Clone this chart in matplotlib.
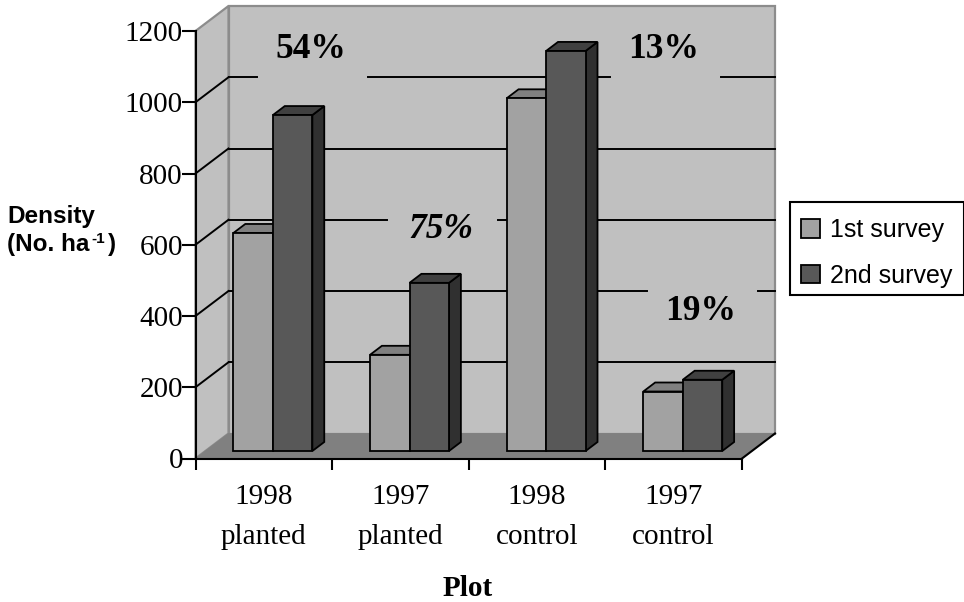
import matplotlib
matplotlib.use('Agg')
import matplotlib.pyplot as plt
from matplotlib.patches import Patch, Rectangle

# valores
categories = ['1998\nplanted', '1997\nplanted', '1998\ncontrol', '1997\ncontrol']
first_survey = [612, 270, 990, 167]
second_survey = [943, 472, 1123, 200]
series_names = ['1st survey', '2nd survey']
y_ticks = [0, 200, 400, 600, 800, 1000, 1200]
pct_labels = ['54%', '75%', '13%', '19%']

WIDTH_PX = 964
HEIGHT_PX = 602
AX_LEFT, AX_RIGHT, AX_TOP, AX_BOTTOM = 195.5, 742.0, 31.0, 458.5
DEPTH_X_PX, DEPTH_Y_PX = 33.0, 25.0

CAT_PX = (AX_RIGHT - AX_LEFT) / len(categories)
VAL_PX = (AX_BOTTOM - AX_TOP) / 1200.0
depth_x = DEPTH_X_PX / CAT_PX
depth_y = DEPTH_Y_PX / VAL_PX

BAR_W = 0.289
BAR_START = 0.205
BAR_D0, BAR_D1 = 0.3, 0.66

WALL = '#c0c0c0'
WALL_EDGE = '#8c8c8c'
FLOOR = '#808080'
SERIF = 'Liberation Serif'
SANS = 'Liberation Sans'


def fx(px):
    return px / WIDTH_PX


def fy(py):
    return 1 - py / HEIGHT_PX


def project(x, value, depth):
    return x + depth * depth_x, value + depth * depth_y


def face(ax, corners, color, edge='black', lw=1.3, zorder=3):
    xs = [c[0] for c in corners]
    ys = [c[1] for c in corners]
    ax.fill(xs, ys, facecolor=color, edgecolor=edge, linewidth=lw, zorder=zorder,
            clip_on=False, joinstyle='miter')


def draw_bar(ax, x0, value, front, top, side, zorder):
    x1 = x0 + BAR_W
    base = BAR_D0 * depth_y
    face(ax, [project(x1, 0, BAR_D0), project(x1, 0, BAR_D1),
              project(x1, value, BAR_D1), project(x1, value, BAR_D0)], side, zorder=zorder)
    face(ax, [project(x0, value, BAR_D0), project(x0, value, BAR_D1),
              project(x1, value, BAR_D1), project(x1, value, BAR_D0)], top, zorder=zorder)
    ax.bar(x0 + BAR_D0 * depth_x, value, BAR_W, bottom=base, align='edge', color=front,
           edgecolor='black', linewidth=1.3, zorder=zorder, clip_on=False)


fig = plt.figure(figsize=(WIDTH_PX / 100, HEIGHT_PX / 100), dpi=100)
ax = fig.add_axes([fx(AX_LEFT), fy(AX_BOTTOM), (AX_RIGHT - AX_LEFT) / WIDTH_PX,
                   (AX_BOTTOM - AX_TOP) / HEIGHT_PX])
ax.set_xlim(0, len(categories))
ax.set_ylim(0, 1200)
ax.patch.set_visible(False)
n = len(categories)

# paredes y piso
face(ax, [project(0, 0, 1), project(n, 0, 1), project(n, 1200, 1), project(0, 1200, 1)],
     WALL, edge=WALL_EDGE, lw=1.6, zorder=1)
face(ax, [project(0, 0, 0), project(0, 0, 1), project(0, 1200, 1), project(0, 1200, 0)],
     WALL, edge=WALL_EDGE, lw=1.6, zorder=1)
face(ax, [project(0, 0, 0), project(n, 0, 0), project(n, 0, 1), project(0, 0, 1)],
     FLOOR, edge=FLOOR, lw=0.5, zorder=1)
ax.plot(*zip(project(n, 0, 0), project(n, 0, 1)), color='black', lw=1.5, zorder=2, clip_on=False)

# las lineas de la grilla estan cortadas detras de los porcentajes
gaps = {1000: [(257, 368), (610, 721)], 600: [(387, 498)], 400: [(647, 758)]}
for v in y_ticks[1:-1]:
    ax.plot(*zip(project(0, v, 0), project(0, v, 1)), color='black', lw=1.4, zorder=2)
    start = 0.0
    for g0, g1 in gaps.get(v, []):
        end = (g0 - AX_LEFT) / CAT_PX - depth_x
        ax.plot(*zip(project(start, v, 1), project(end, v, 1)), color='black', lw=1.4,
                zorder=2, clip_on=False)
        start = (g1 - AX_LEFT) / CAT_PX - depth_x
    ax.plot(*zip(project(start, v, 1), project(n, v, 1)), color='black', lw=1.4,
            zorder=2, clip_on=False)

for i in range(n):
    x0 = i + BAR_START
    draw_bar(ax, x0, first_survey[i], '#a2a2a2', '#808080', '#505050', 3)
    draw_bar(ax, x0 + BAR_W, second_survey[i], '#585858', '#404040', '#303030', 4)

ax.spines['top'].set_visible(False)
ax.spines['right'].set_visible(False)
ax.spines['left'].set_linewidth(1.5)
ax.spines['bottom'].set_linewidth(1.5)
ax.spines['left'].set_zorder(6)
ax.spines['bottom'].set_zorder(6)
ax.set_yticks(y_ticks)
ax.set_yticklabels([str(v) for v in y_ticks], family=SERIF, fontsize=21)
ax.tick_params(axis='y', length=10, width=1.5, pad=-1)
ax.set_xticks(range(n + 1))
ax.set_xticklabels([])
ax.tick_params(axis='x', which='major', length=8, width=1.5)
ax.set_xticks([i + 0.5 for i in range(n)], minor=True)
ax.set_xticklabels(categories, minor=True, family=SERIF, fontsize=21, linespacing=1.72)
ax.tick_params(axis='x', which='minor', length=0, pad=18)

fig.text(fx(468), fy(588), 'Plot', family=SERIF, fontsize=21, fontweight='bold',
         ha='center', va='center')
fig.text(fx(7), fy(217), 'Density', family=SANS, fontsize=17.5, fontweight='bold',
         ha='left', va='center')
fig.text(fx(7), fy(251), '(No. ha', family=SANS, fontsize=17.5, fontweight='bold',
         ha='left', va='baseline')
fig.text(fx(91), fy(243), '-1', family=SANS, fontsize=11, fontweight='bold',
         ha='left', va='baseline')
fig.text(fx(116), fy(251), ')', family=SANS, fontsize=17.5, fontweight='bold',
         ha='right', va='baseline')

pct_px = [(311, 50), (441, 230), (664, 50), (701, 312)]
pct_style = ['normal', 'italic', 'normal', 'normal']
for label, (px, py), style in zip(pct_labels, pct_px, pct_style):
    fig.text(fx(px), fy(py), label, family=SERIF, fontsize=25.5, fontweight='bold',
             fontstyle=style, ha='center', va='center', zorder=8)

# marco aparte: las filas de la leyenda no estan centradas en la caja
fig.add_artist(Rectangle((fx(790), fy(295)), (964 - 790) / WIDTH_PX, 93 / HEIGHT_PX,
                         transform=fig.transFigure, facecolor='white', edgecolor='black',
                         linewidth=1.5, clip_on=False))
handles = [Patch(facecolor='#a2a2a2', edgecolor='black', linewidth=1.3),
           Patch(facecolor='#585858', edgecolor='black', linewidth=1.3)]
fig.legend(handles, series_names, loc='upper left',
           bbox_to_anchor=(fx(790), fy(207)), bbox_transform=fig.transFigure,
           prop={'family': SANS, 'size': 18}, frameon=False,
           handlelength=0.76, handleheight=0.76,
           handletextpad=0.4, labelspacing=0.85, borderpad=0.45, borderaxespad=0)

fig.savefig('out.png', dpi=100)
